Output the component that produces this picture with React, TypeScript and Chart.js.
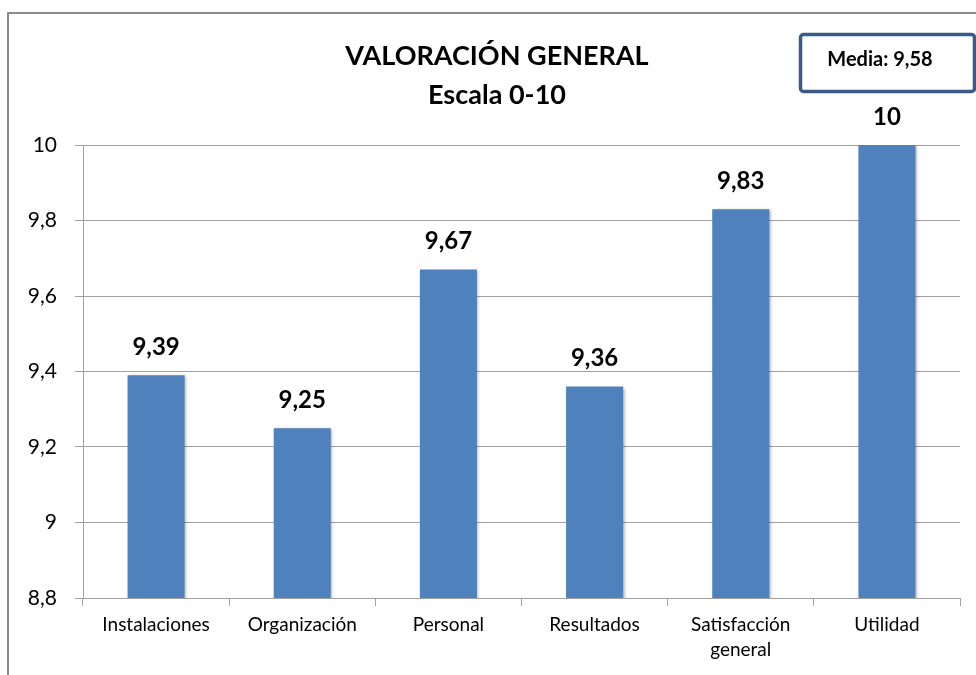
import { useEffect, useRef } from 'react';
import { Chart, registerables } from 'chart.js';

Chart.register(...registerables);

const categories: (string | string[])[] = [
  'Instalaciones',
  'Organización',
  'Personal',
  'Resultados',
  ['Satisfacción', 'general'],
  'Utilidad',
];
const values = [9.39, 9.25, 9.67, 9.36, 9.83, 10];
const titleLines = ['VALORACIÓN GENERAL', 'Escala 0-10'];
const mediaLabel = 'Media: 9,58';
const yMin = 8.8;
const yMax = 10;
const yStep = 0.2;

const FONT = 'Lato, "Open Sans", sans-serif';
const fmt = (v: number) => String(Math.round(v * 100) / 100).replace('.', ',');

const decoPlugin = {
  id: 'deco',
  beforeDraw(chart: any) {
    const ctx = chart.ctx as CanvasRenderingContext2D;
    ctx.save();
    ctx.fillStyle = '#ffffff';
    ctx.fillRect(0, 0, chart.width, chart.height);
    // outer frame
    ctx.strokeStyle = '#8c8c8c';
    ctx.lineWidth = 2;
    ctx.strokeRect(8, 13, chart.width + 40, chart.height + 40);
    // title
    ctx.fillStyle = '#000000';
    ctx.font = `bold 27px ${FONT}`;
    ctx.textAlign = 'center';
    ctx.textBaseline = 'middle';
    ctx.fillText(titleLines[0], 497, 56);
    ctx.fillText(titleLines[1], 497, 95);
    // media box
    ctx.strokeStyle = '#3b5a87';
    ctx.lineWidth = 3.5;
    ctx.beginPath();
    (ctx as any).roundRect(800.5, 34.5, 174, 57, 3);
    ctx.stroke();
    ctx.font = `bold 20px ${FONT}`;
    ctx.fillText(mediaLabel, 880, 60);
    ctx.restore();
  },
  beforeDatasetsDraw(chart: any) {
    const ctx = chart.ctx as CanvasRenderingContext2D;
    ctx.save();
    ctx.shadowColor = 'rgba(0,0,0,0.35)';
    ctx.shadowBlur = 3;
    ctx.shadowOffsetX = 1.5;
    ctx.shadowOffsetY = 1;
  },
  afterDatasetsDraw(chart: any) {
    const ctx = chart.ctx as CanvasRenderingContext2D;
    ctx.restore();
    ctx.save();
    ctx.fillStyle = '#000000';
    ctx.font = `bold 24px ${FONT}`;
    ctx.textAlign = 'center';
    ctx.textBaseline = 'middle';
    const meta = chart.getDatasetMeta(0);
    meta.data.forEach((bar: any, i: number) => {
      ctx.fillText(fmt(values[i]), bar.x, bar.y - 28);
    });
    ctx.restore();
  },
};

export default function App() {
  const ref = useRef<HTMLCanvasElement | null>(null);
  useEffect(() => {
    if (!ref.current) return;
    const chart = new Chart(ref.current, {
      type: 'bar',
      data: {
        labels: categories,
        datasets: [
          {
            data: values,
            backgroundColor: '#4f81bd',
            borderWidth: 0,
            categoryPercentage: 0.39,
            barPercentage: 1,
          },
        ],
      },
      options: {
        animation: false,
        responsive: true,
        maintainAspectRatio: false,
        layout: { padding: { top: 145, right: 16, left: 0, bottom: 0 } },
        plugins: {
          legend: { display: false },
          title: { display: false },
          tooltip: { enabled: false },
        },
        scales: {
          x: {
            grid: {
              display: true,
              offset: true,
              drawOnChartArea: false,
              drawTicks: true,
              tickLength: 8,
              color: '#a0a0a0',
            },
            border: { color: '#a0a0a0', width: 1 },
            ticks: {
              color: '#000000',
              font: { family: FONT, size: 19, lineHeight: 1.32 },
              padding: 6,
              maxRotation: 0,
              autoSkip: false,
            },
            afterFit: (s: any) => {
              s.height = 77;
            },
          },
          y: {
            min: yMin,
            max: yMax,
            ticks: {
              stepSize: yStep,
              color: '#000000',
              font: { family: FONT, size: 21 },
              padding: 18,
              callback: (v: any) => fmt(Number(v)),
            },
            grid: { color: '#a0a0a0', tickLength: 8 },
            border: { color: '#a0a0a0', width: 1 },
            afterFit: (s: any) => {
              s.width = 83;
            },
          },
        },
      },
      plugins: [decoPlugin],
    });
    return () => chart.destroy();
  }, []);
  return (
    <div style={{ position: 'fixed', left: 0, top: 0, width: 976, height: 675 }}>
      <canvas ref={ref} />
    </div>
  );
}
